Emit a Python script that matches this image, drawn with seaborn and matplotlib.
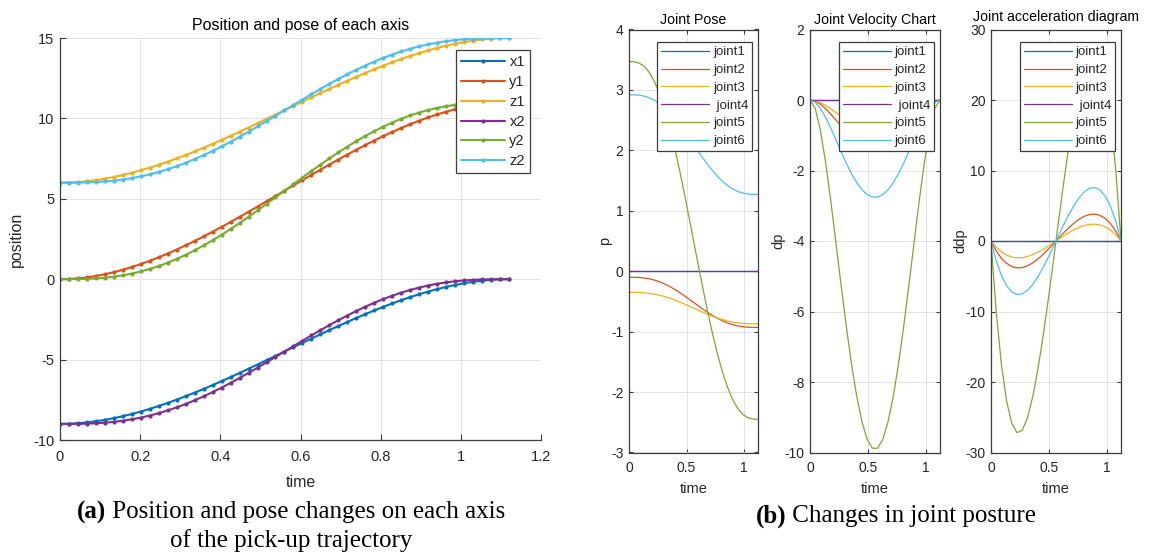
import matplotlib
matplotlib.use("Agg")
import matplotlib.pyplot as plt
from matplotlib.ticker import FuncFormatter, MultipleLocator
import pandas as pd
import seaborn as sns

# ---------------------------------------------------------------------------
# Pick-up trajectory: position of each axis over time
# ---------------------------------------------------------------------------
time = [0.0, 0.0224, 0.0448, 0.0672, 0.0896, 0.112, 0.1344, 0.1568, 0.1792, 0.2016,
        0.224, 0.2464, 0.2688, 0.2912, 0.3136, 0.336, 0.3584, 0.3808, 0.4032, 0.4256,
        0.448, 0.4704, 0.4928, 0.5152, 0.5376, 0.56, 0.5824, 0.6048, 0.6272, 0.6496,
        0.672, 0.6944, 0.7168, 0.7392, 0.7616, 0.784, 0.8064, 0.8288, 0.8512, 0.8736,
        0.896, 0.9184, 0.9408, 0.9632, 0.9856, 1.008, 1.0304, 1.0528, 1.0752, 1.0976, 1.12]

x1 = [-9.0, -8.989, -8.958, -8.907, -8.836, -8.748, -8.642, -8.520, -8.383, -8.230,
      -8.064, -7.885, -7.694, -7.491, -7.278, -7.056, -6.825, -6.586, -6.341, -6.089,
      -5.832, -5.571, -5.306, -5.039, -4.770, -4.5, -4.230, -3.961, -3.694, -3.429,
      -3.168, -2.911, -2.659, -2.414, -2.175, -1.944, -1.722, -1.509, -1.306, -1.115,
      -0.936, -0.770, -0.618, -0.480, -0.358, -0.252, -0.164, -0.093, -0.042, -0.011, 0.0]
y1 = [0.0, 0.013, 0.051, 0.114, 0.200, 0.308, 0.437, 0.586, 0.755, 0.941,
      1.144, 1.363, 1.597, 1.844, 2.104, 2.376, 2.658, 2.950, 3.250, 3.558,
      3.872, 4.191, 4.515, 4.841, 5.170, 5.5, 5.830, 6.159, 6.485, 6.809,
      7.128, 7.442, 7.750, 8.050, 8.342, 8.624, 8.896, 9.156, 9.403, 9.637,
      9.856, 10.059, 10.245, 10.414, 10.563, 10.692, 10.800, 10.886, 10.949, 10.987, 11.0]
z1 = [6.0, 6.011, 6.042, 6.093, 6.164, 6.252, 6.358, 6.480, 6.618, 6.770,
      6.936, 7.115, 7.306, 7.509, 7.722, 7.944, 8.175, 8.414, 8.659, 8.911,
      9.168, 9.429, 9.694, 9.961, 10.230, 10.5, 10.770, 11.039, 11.306, 11.571,
      11.832, 12.089, 12.341, 12.586, 12.825, 13.056, 13.278, 13.491, 13.694, 13.885,
      14.064, 14.230, 14.383, 14.520, 14.642, 14.748, 14.836, 14.907, 14.958, 14.989, 15.0]
x2 = [-9.0, -8.999, -8.995, -8.982, -8.959, -8.923, -8.871, -8.802, -8.714, -8.607,
      -8.479, -8.330, -8.161, -7.971, -7.761, -7.532, -7.285, -7.021, -6.742, -6.449,
      -6.143, -5.827, -5.503, -5.172, -4.837, -4.5, -4.163, -3.828, -3.497, -3.173,
      -2.857, -2.551, -2.258, -1.979, -1.715, -1.468, -1.239, -1.029, -0.839, -0.670,
      -0.521, -0.393, -0.286, -0.198, -0.129, -0.077, -0.041, -0.018, -0.005, -0.001, 0.0]
y2 = [0.0, 0.001, 0.007, 0.022, 0.050, 0.094, 0.158, 0.242, 0.349, 0.481,
      0.637, 0.819, 1.026, 1.258, 1.514, 1.794, 2.096, 2.418, 2.760, 3.118,
      3.492, 3.878, 4.274, 4.679, 5.088, 5.5, 5.912, 6.322, 6.726, 7.122,
      7.508, 7.882, 8.240, 8.582, 8.904, 9.206, 9.486, 9.742, 9.974, 10.181,
      10.363, 10.519, 10.651, 10.758, 10.843, 10.906, 10.950, 10.978, 10.993, 10.999, 11.0]
z2 = [6.0, 6.001, 6.005, 6.018, 6.041, 6.077, 6.129, 6.198, 6.286, 6.393,
      6.521, 6.670, 6.839, 7.029, 7.239, 7.468, 7.715, 7.979, 8.258, 8.551,
      8.857, 9.173, 9.497, 9.828, 10.163, 10.5, 10.837, 11.172, 11.503, 11.827,
      12.143, 12.449, 12.742, 13.021, 13.285, 13.532, 13.761, 13.971, 14.161, 14.330,
      14.479, 14.607, 14.714, 14.802, 14.871, 14.923, 14.959, 14.982, 14.995, 14.999, 15.0]

axis_names = ["x1", "y1", "z1", "x2", "y2", "z2"]
axis_series = [x1, y1, z1, x2, y2, z2]

# ---------------------------------------------------------------------------
# Joint space: pose, velocity and acceleration of the six joints
# ---------------------------------------------------------------------------
joint_time = [0.0, 0.0448, 0.0896, 0.1344, 0.1792, 0.224, 0.2688, 0.3136, 0.3584, 0.4032,
              0.448, 0.4928, 0.5376, 0.5824, 0.6272, 0.672, 0.7168, 0.7616, 0.8064, 0.8512,
              0.896, 0.9408, 0.9856, 1.0304, 1.0752, 1.12]

zero_track = [0.0, 0.0, 0.0, 0.0, 0.0, 0.0, 0.0, 0.0, 0.0, 0.0, 0.0, 0.0, 0.0,
              0.0, 0.0, 0.0, 0.0, 0.0, 0.0, 0.0, 0.0, 0.0, 0.0, 0.0, 0.0, 0.0]

pose_j1 = zero_track
pose_j2 = [-0.100, -0.100, -0.104, -0.112, -0.126, -0.148, -0.177, -0.214, -0.258, -0.308,
           -0.363, -0.423, -0.484, -0.546, -0.607, -0.667, -0.722, -0.772, -0.816, -0.853,
           -0.882, -0.904, -0.918, -0.926, -0.930, -0.930]
pose_j3 = [-0.350, -0.350, -0.352, -0.357, -0.367, -0.380, -0.399, -0.422, -0.449, -0.481,
           -0.515, -0.552, -0.591, -0.630, -0.668, -0.705, -0.740, -0.771, -0.798, -0.822,
           -0.840, -0.854, -0.863, -0.868, -0.870, -0.870]
pose_j4 = zero_track
pose_j5 = [3.470, 3.466, 3.443, 3.385, 3.282, 3.127, 2.918, 2.655, 2.342, 1.985,
           1.591, 1.170, 0.732, 0.288, -0.150, -0.571, -0.965, -1.322, -1.635, -1.898,
           -2.107, -2.262, -2.365, -2.423, -2.446, -2.450]
pose_j6 = [2.920, 2.919, 2.913, 2.896, 2.868, 2.824, 2.766, 2.693, 2.606, 2.506,
           2.396, 2.279, 2.157, 2.033, 1.911, 1.794, 1.684, 1.584, 1.497, 1.424,
           1.366, 1.322, 1.294, 1.277, 1.271, 1.270]

vel_j1 = zero_track
vel_j2 = [0.0, -0.033, -0.120, -0.248, -0.402, -0.569, -0.740, -0.904, -1.053, -1.180,
          -1.281, -1.350, -1.385, -1.385, -1.350, -1.281, -1.180, -1.053, -0.904, -0.740,
          -0.569, -0.402, -0.248, -0.120, -0.033, 0.0]
vel_j3 = [0.0, -0.021, -0.075, -0.155, -0.252, -0.357, -0.463, -0.566, -0.660, -0.739,
          -0.802, -0.846, -0.868, -0.868, -0.846, -0.802, -0.739, -0.660, -0.566, -0.463,
          -0.357, -0.252, -0.155, -0.075, -0.021, 0.0]
vel_j4 = zero_track
vel_j5 = [0.0, -0.234, -0.859, -1.768, -2.864, -4.059, -5.276, -6.445, -7.508, -8.418,
          -9.134, -9.627, -9.879, -9.879, -9.627, -9.134, -8.418, -7.508, -6.445, -5.276,
          -4.059, -2.864, -1.768, -0.859, -0.234, 0.0]
vel_j6 = [0.0, -0.065, -0.239, -0.493, -0.798, -1.131, -1.470, -1.796, -2.093, -2.346,
          -2.546, -2.683, -2.753, -2.753, -2.683, -2.546, -2.346, -2.093, -1.796, -1.470,
          -1.131, -0.798, -0.493, -0.239, -0.065, 0.0]

acc_j1 = zero_track
acc_j2 = [0.0, -1.403, -2.454, -3.186, -3.628, -3.811, -3.765, -3.522, -3.110, -2.561,
          -1.906, -1.174, -0.396, 0.396, 1.174, 1.906, 2.561, 3.110, 3.522, 3.765,
          3.811, 3.628, 3.186, 2.454, 1.403, 0.0]
acc_j3 = [0.0, -0.879, -1.538, -1.996, -2.273, -2.388, -2.359, -2.206, -1.948, -1.605,
          -1.194, -0.735, -0.248, 0.248, 0.735, 1.194, 1.605, 1.948, 2.206, 2.359,
          2.388, 2.273, 1.996, 1.538, 0.879, 0.0]
acc_j4 = zero_track
acc_j5 = [0.0, -10.004, -17.506, -22.726, -25.879, -27.184, -26.857, -25.118, -22.182, -18.267,
          -13.592, -8.373, -2.827, 2.827, 8.373, 13.592, 18.267, 22.182, 25.118, 26.857,
          27.184, 25.879, 22.726, 17.506, 10.004, 0.0]
acc_j6 = [0.0, -2.788, -4.879, -6.334, -7.213, -7.577, -7.486, -7.001, -6.182, -5.091,
          -3.788, -2.334, -0.788, 0.788, 2.334, 3.788, 5.091, 6.182, 7.001, 7.486,
          7.577, 7.213, 6.334, 4.879, 2.788, 0.0]

joint_names = ["joint1", "joint2", "joint3", " joint4", "joint5", "joint6"]
pose_series = [pose_j1, pose_j2, pose_j3, pose_j4, pose_j5, pose_j6]
vel_series = [vel_j1, vel_j2, vel_j3, vel_j4, vel_j5, vel_j6]
acc_series = [acc_j1, acc_j2, acc_j3, acc_j4, acc_j5, acc_j6]

line_colors = ["#0072BD", "#D95319", "#EDB120", "#7E2F8E", "#77AC30", "#4DBEEE"]

# ---------------------------------------------------------------------------
# Styling
# ---------------------------------------------------------------------------
sns.set_theme(style="white")
plt.rcParams["font.family"] = ["Liberation Sans", "DejaVu Sans"]
plt.rcParams["axes.unicode_minus"] = False

INK = "#262626"
SPINE = "#3c3c3c"
GRID = "#e3e3e3"

fmt = FuncFormatter(lambda v, _: f"{v:g}")


def long_frame(t, names, series):
    return pd.concat(
        [pd.DataFrame({"time": t, "value": s, "series": n}) for n, s in zip(names, series)],
        ignore_index=True,
    )


def style_axes(ax, box, ticklen, fontsize, xpad):
    ax.set_facecolor("white")
    ax.grid(True, color=GRID, linewidth=0.7)
    ax.set_axisbelow(True)
    for side in ["left", "bottom", "top", "right"]:
        ax.spines[side].set_color(SPINE)
        ax.spines[side].set_linewidth(0.9)
    if not box:
        ax.spines["top"].set_visible(False)
        ax.spines["right"].set_visible(False)
    ax.tick_params(axis="both", which="both", direction="in", length=ticklen,
                   width=0.8, color=SPINE, labelcolor=INK, labelsize=fontsize,
                   top=box, right=box, left=True, bottom=True, pad=4)
    ax.tick_params(axis="x", pad=xpad)
    ax.xaxis.set_major_formatter(fmt)
    ax.yaxis.set_major_formatter(fmt)


def restyle_legend(ax, fontsize, anchor, handlelength, labelspacing, borderpad):
    leg = ax.get_legend()
    handles = leg.legend_handles
    labels = [t.get_text() for t in leg.get_texts()]
    leg.remove()
    new = ax.legend(handles, labels, loc="upper right", bbox_to_anchor=anchor,
                    frameon=True, fancybox=False, framealpha=1, edgecolor=SPINE,
                    fontsize=fontsize, handlelength=handlelength, handletextpad=0.3,
                    labelspacing=labelspacing, borderpad=borderpad, borderaxespad=0)
    new.get_frame().set_linewidth(0.9)
    for txt in new.get_texts():
        txt.set_color(INK)


W, H = 1154, 554
fig = plt.figure(figsize=(W / 100, H / 100), dpi=100)


def px_axes(x0, x1, ytop, ybot):
    return fig.add_axes([x0 / W, 1 - ybot / H, (x1 - x0) / W, (ybot - ytop) / H])


# ---- (a) Cartesian positions -------------------------------------------------
ax_a = px_axes(60, 541, 38, 440)
axis_df = long_frame(time, axis_names, axis_series)
sns.lineplot(data=axis_df, x="time", y="value", hue="series",
             palette=dict(zip(axis_names, line_colors)), marker=".", markersize=6,
             markeredgewidth=0, linewidth=1.5, sort=False, estimator=None, ax=ax_a)
ax_a.set_xlim(0, 1.2)
ax_a.set_ylim(-10, 15)
ax_a.xaxis.set_major_locator(MultipleLocator(0.2))
ax_a.yaxis.set_major_locator(MultipleLocator(5))
style_axes(ax_a, box=False, ticklen=4, fontsize=10.5, xpad=7)
ax_a.set_title("Position and pose of each axis", fontsize=11.5, color="black", pad=6)
ax_a.set_xlabel("time", fontsize=11.5, color=INK)
ax_a.set_ylabel("position", fontsize=11.5, color=INK)
ax_a.xaxis.set_label_coords(0.5, -0.087)
ax_a.yaxis.set_label_coords(-0.076, 0.5)
restyle_legend(ax_a, 10.5, (0.977, 0.97), 3.0, 0.4, 0.35)

# ---- (b) Joint space panels ------------------------------------------------------
panels = [
    ((629, 758), pose_series, "Joint Pose", "p", (-3, 4), 1, -0.13, 4),
    ((810, 940), vel_series, "Joint Velocity Chart", "dp", (-10, 2), 2, -0.19, 4),
    ((991, 1121), acc_series, "Joint acceleration diagram", "ddp", (-30, 30), 10, -0.18, 6),
]
for (x0, x1p), series, title, ylab, ylim, step, ylab_x, tpad in panels:
    ax = px_axes(x0, x1p, 29.5, 452.5)
    df = long_frame(joint_time, joint_names, series)
    sns.lineplot(data=df, x="time", y="value", hue="series",
                 palette=dict(zip(joint_names, line_colors)), linewidth=0.9,
                 sort=False, estimator=None, ax=ax)
    ax.set_xlim(0, 1.12)
    ax.set_ylim(*ylim)
    ax.xaxis.set_major_locator(MultipleLocator(0.5))
    ax.yaxis.set_major_locator(MultipleLocator(step))
    style_axes(ax, box=True, ticklen=3, fontsize=10, xpad=6)
    ax.set_title(title, fontsize=10.2, color="black", pad=tpad)
    ax.set_xlabel("time", fontsize=10.5, color=INK)
    ax.set_ylabel(ylab, fontsize=10.5, color=INK)
    ax.xaxis.set_label_coords(0.5, -0.07)
    ax.yaxis.set_label_coords(ylab_x, 0.5)
    restyle_legend(ax, 9.5, (0.955, 0.97), 3.6, 0.42, 0.3)

# ---- captions (bold tag + regular text, serif) ----------------------------------
renderer = fig.canvas.get_renderer()
SERIF = ["Liberation Serif", "DejaVu Serif"]


def caption(cx, cy, bold, rest, size=18):
    tb = fig.text(0, 1 - cy / H, bold, fontweight="bold", fontsize=size,
                  family=SERIF, va="center", ha="left", color="black")
    tr = fig.text(0, 1 - cy / H, rest, fontsize=size,
                  family=SERIF, va="center", ha="left", color="black")
    wb = tb.get_window_extent(renderer).width
    wr = tr.get_window_extent(renderer).width
    start = cx - (wb + wr) / 2
    tb.set_x(start / W)
    tr.set_x((start + wb) / W)


def plain_caption(cx, cy, text, size=18):
    fig.text(cx / W, 1 - cy / H, text, fontsize=size, family=SERIF,
             va="center", ha="center", color="black")


caption(291, 512, "(a)", " Position and pose changes on each axis")
plain_caption(291, 541, "of the pick-up trajectory")
caption(896, 516, "(b)", " Changes in joint posture")

fig.savefig("out.png", dpi=100, facecolor="white")
